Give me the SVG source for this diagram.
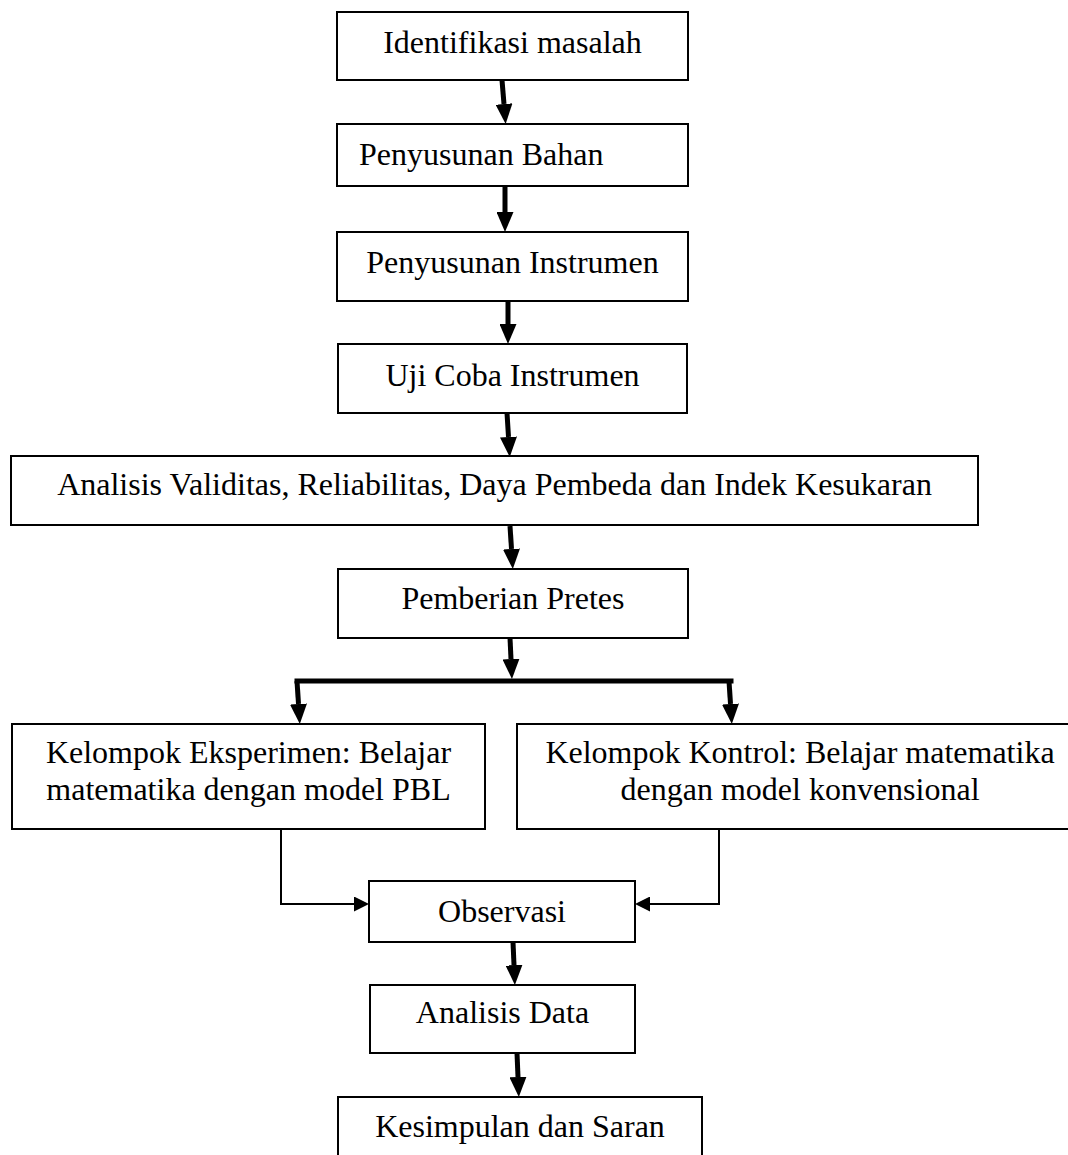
<svg xmlns="http://www.w3.org/2000/svg" width="1068" height="1155" viewBox="0 0 1068 1155">
<style>
.box{fill:#fff;stroke:#000;stroke-width:2}
.t{font-family:"Liberation Serif","Times New Roman",serif;font-size:32px;fill:#000;text-anchor:middle}
.thick{stroke:#000;stroke-width:5;fill:none}
.thin{stroke:#000;stroke-width:2;fill:none}
</style>
<defs>
<marker id="ah" markerUnits="userSpaceOnUse" markerWidth="20" markerHeight="17" refX="0" refY="8.5" orient="auto" viewBox="0 0 20 17"><path d="M0,0 L20,8.5 L0,17 z" fill="#000"/></marker>
<marker id="ahs" markerUnits="userSpaceOnUse" markerWidth="15" markerHeight="15" refX="0" refY="7.5" orient="auto" viewBox="0 0 15 15"><path d="M0,0 L15,7.5 L0,15 z" fill="#000"/></marker>
</defs>
<rect width="1068" height="1155" fill="#fff"/>
<g id="connectors">
<line class="thick" x1="502" y1="80" x2="504" y2="104" marker-end="url(#ah)"/>
<line class="thick" x1="505" y1="186" x2="505" y2="212" marker-end="url(#ah)"/>
<line class="thick" x1="508" y1="301" x2="508" y2="324" marker-end="url(#ah)"/>
<line class="thick" x1="507" y1="413" x2="508.5" y2="437" marker-end="url(#ah)"/>
<line class="thick" x1="510" y1="526" x2="511.5" y2="549" marker-end="url(#ah)"/>
<line class="thick" x1="510" y1="638" x2="511" y2="659" marker-end="url(#ah)"/>
<line class="thick" x1="297" y1="681" x2="731" y2="681" stroke-linecap="square"/>
<line class="thick" x1="297" y1="681" x2="298.5" y2="704" marker-end="url(#ah)"/>
<line class="thick" x1="729" y1="681" x2="730.5" y2="704" marker-end="url(#ah)"/>
<path class="thin" d="M281,829 V904 H354" marker-end="url(#ahs)"/>
<path class="thin" d="M719,829 V904 H650" marker-end="url(#ahs)"/>
<line class="thick" x1="513" y1="942" x2="514" y2="965" marker-end="url(#ah)"/>
<line class="thick" x1="517" y1="1053" x2="518" y2="1077" marker-end="url(#ah)"/>
</g>
<g id="n1"><rect class="box" x="337" y="12" width="351" height="68"/><text class="t" x="512.5" y="53">Identifikasi masalah</text></g>
<g id="n2"><rect class="box" x="337" y="124" width="351" height="62"/><text class="t" x="359" y="165" style="text-anchor:start">Penyusunan Bahan</text></g>
<g id="n3"><rect class="box" x="337" y="232" width="351" height="69"/><text class="t" x="512.5" y="273">Penyusunan Instrumen</text></g>
<g id="n4"><rect class="box" x="338" y="344" width="349" height="69"/><text class="t" x="512.5" y="386">Uji Coba Instrumen</text></g>
<g id="n5"><rect class="box" x="11" y="456" width="967" height="69"/><text class="t" x="494.5" y="495">Analisis Validitas, Reliabilitas, Daya Pembeda dan Indek Kesukaran</text></g>
<g id="n6"><rect class="box" x="338" y="569" width="350" height="69"/><text class="t" x="513" y="609">Pemberian Pretes</text></g>
<g id="n7"><rect class="box" x="12" y="724" width="473" height="105"/><text class="t" x="248.5" y="763">Kelompok Eksperimen: Belajar</text><text class="t" x="248.5" y="800">matematika dengan model PBL</text></g>
<g id="n8"><rect class="box" x="517" y="724" width="566" height="105"/><text class="t" x="800" y="763">Kelompok Kontrol: Belajar matematika</text><text class="t" x="800" y="800">dengan model konvensional</text></g>
<g id="n9"><rect class="box" x="369" y="881" width="266" height="61"/><text class="t" x="502" y="922">Observasi</text></g>
<g id="n10"><rect class="box" x="370" y="985" width="265" height="68"/><text class="t" x="502.5" y="1023">Analisis Data</text></g>
<g id="n11"><rect class="box" x="338" y="1097" width="364" height="70"/><text class="t" x="520" y="1137">Kesimpulan dan Saran</text></g>
</svg>
